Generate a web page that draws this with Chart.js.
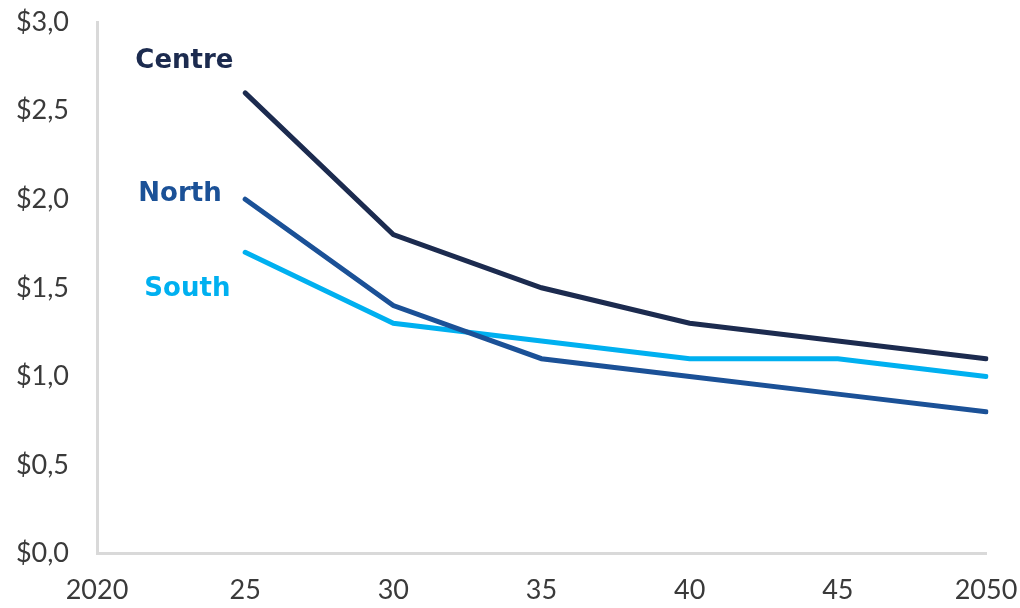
<!DOCTYPE html>
<html>
<head>
<meta charset="utf-8">
<script src="https://cdn.jsdelivr.net/npm/chart.js@4/dist/chart.umd.min.js"></script>
<style>
  html, body { margin: 0; padding: 0; background: #ffffff; }
  #wrap { width: 1020px; height: 608px; position: relative; }
</style>
</head>
<body>
<div id="wrap"><canvas id="c"></canvas></div>
<script>
// Years on the horizontal axis
const years = ['2020', '25', '30', '35', '40', '45', '2050'];

// Cost per region ($), no value for 2020
const centre = [null, 2.6, 1.8, 1.5, 1.3, 1.2, 1.1];
const north  = [null, 2.0, 1.4, 1.1, 1.0, 0.9, 0.8];
const south  = [null, 1.7, 1.3, 1.2, 1.1, 1.1, 1.0];

const seriesNames = ['Centre', 'North', 'South'];
const seriesColors = ['#1c2b4f', '#1b5197', '#00b0f0'];

// Where each series name sits, in axis units (category index, value)
const nameSpots = [[0.59, 2.78], [0.56, 2.03], [0.61, 1.49]];

const FONT = 'Lato, "Open Sans", sans-serif';
const NAME_FONT = '"DejaVu Sans", Lato, sans-serif';

const seriesNamePlugin = {
  id: 'seriesNames',
  afterDatasetsDraw(chart) {
    const { ctx, scales: { x, y } } = chart;
    ctx.save();
    ctx.font = 'bold 26px ' + NAME_FONT;
    ctx.textAlign = 'center';
    ctx.textBaseline = 'middle';
    seriesNames.forEach((name, i) => {
      ctx.fillStyle = seriesColors[i];
      ctx.fillText(name, x.getPixelForValue(nameSpots[i][0]), y.getPixelForValue(nameSpots[i][1]));
    });
    ctx.restore();
  }
};

const mk = (label, data, color) => ({
  label, data,
  borderColor: color,
  backgroundColor: color,
  borderWidth: 5,
  borderCapStyle: 'round',
  borderJoinStyle: 'miter',
  pointRadius: 0,
  tension: 0,
  spanGaps: false
});

new Chart(document.getElementById('c'), {
  type: 'line',
  data: {
    labels: years,
    datasets: [
      mk(seriesNames[0], centre, seriesColors[0]),
      mk(seriesNames[1], north, seriesColors[1]),
      mk(seriesNames[2], south, seriesColors[2])
    ]
  },
  options: {
    responsive: true,
    maintainAspectRatio: false,
    animation: false,
    layout: { padding: { left: 0, right: 34, top: 22, bottom: -18 } },
    plugins: {
      legend: { display: false },
      tooltip: { enabled: false }
    },
    scales: {
      x: {
        offset: false,
        grid: { display: false, drawTicks: false },
        border: { display: true, color: '#d9d9d9', width: 3 },
        ticks: {
          color: '#3a3a3a',
          font: { family: FONT, size: 27 },
          padding: 20,
          maxRotation: 0,
          autoSkip: false
        },
        afterFit(scale) { scale.paddingLeft = 0; scale.paddingRight = 0; }
      },
      y: {
        min: 0,
        max: 3,
        grid: { display: false, drawTicks: false },
        border: { display: true, color: '#d9d9d9', width: 3 },
        ticks: {
          stepSize: 0.5,
          color: '#3a3a3a',
          font: { family: FONT, size: 27 },
          padding: 28,
          callback: v => '$' + Number(v).toFixed(1).replace('.', ',')
        },
        afterFit(scale) {
          scale.width = 97;
          scale.paddingTop = 0;
          scale.paddingBottom = 0;
        }
      }
    }
  },
  plugins: [seriesNamePlugin]
});
</script>
</body>
</html>
